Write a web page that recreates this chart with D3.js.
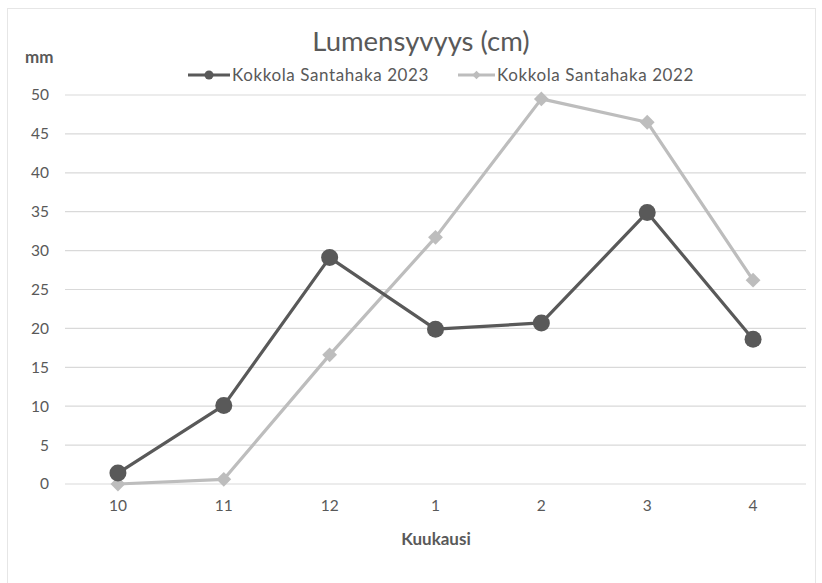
<!DOCTYPE html>
<html><head><meta charset="utf-8">
<script src="https://cdn.jsdelivr.net/npm/d3@7"></script>
<style>body{margin:0;background:#fff;} text{font-family:Lato,"Open Sans",sans-serif;}</style>
</head><body>
<svg id="c" width="822" height="583"></svg>
<script>
const months = ["10","11","12","1","2","3","4"];
const s2023 = [1.4, 10.1, 29.1, 19.9, 20.7, 34.9, 18.6];
const s2022 = [0.0, 0.6, 16.6, 31.7, 49.5, 46.5, 26.2];
const yTicks = [0,5,10,15,20,25,30,35,40,45,50];
const seriesNames = ["Kokkola Santahaka 2023", "Kokkola Santahaka 2022"];
const colors = ["#595959", "#bdbdbd"];

const svg = d3.select("#c");
svg.append("rect").attr("x",7.5).attr("y",8.5).attr("width",808).attr("height",590)
  .attr("fill","#fff").attr("stroke","#e6e6e6");

const x = d3.scaleBand().domain(months).range([65,806]);
const y = d3.scaleLinear().domain([0,50]).range([484,95]);

svg.append("g").selectAll("line").data(yTicks).join("line")
  .attr("x1",65).attr("x2",806).attr("y1",d=>y(d)).attr("y2",d=>y(d))
  .attr("stroke","#d9d9d9").attr("stroke-width",1.2);

const ya = svg.append("g").attr("transform","translate(49,0)")
  .call(d3.axisLeft(y).tickValues(yTicks).tickSize(0).tickPadding(0));
ya.select(".domain").remove();
ya.selectAll("text").attr("font-size",15.5).attr("fill","#595959").attr("font-family","Lato,sans-serif");

const xa = svg.append("g").attr("transform","translate(0,497)")
  .call(d3.axisBottom(x).tickSize(0).tickPadding(3));
xa.select(".domain").remove();
xa.selectAll("text").attr("font-size",15.5).attr("fill","#595959").attr("font-family","Lato,sans-serif");

const cx = d => x(d) + x.bandwidth()/2;
const line = d3.line().x((d,i)=>cx(months[i])).y(d=>y(d));

svg.append("path").datum(s2022).attr("d",line).attr("fill","none")
  .attr("stroke",colors[1]).attr("stroke-width",3.2).attr("stroke-linejoin","round");
svg.append("path").datum(s2023).attr("d",line).attr("fill","none")
  .attr("stroke",colors[0]).attr("stroke-width",3.2).attr("stroke-linejoin","round");

svg.append("g").selectAll("path").data(s2022).join("path")
  .attr("d", d3.symbol().type(d3.symbolSquare).size(110))
  .attr("transform",(d,i)=>`translate(${cx(months[i])},${y(d)}) rotate(45)`)
  .attr("fill",colors[1]);
svg.append("g").selectAll("circle").data(s2023).join("circle")
  .attr("cx",(d,i)=>cx(months[i])).attr("cy",d=>y(d)).attr("r",8.5)
  .attr("fill",colors[0]);

svg.append("text").attr("x",421).attr("y",51).attr("text-anchor","middle")
  .attr("font-size",27.5).attr("fill","#595959").text("Lumensyvyys (cm)");
svg.append("text").attr("x",25).attr("y",63).attr("font-size",17).attr("font-weight","bold")
  .attr("fill","#595959").text("mm");
svg.append("text").attr("x",436).attr("y",545).attr("text-anchor","middle")
  .attr("font-size",17).attr("font-weight","bold").attr("fill","#595959").text("Kuukausi");

const leg = [{x0:188,x1:230,tx:232},{x0:458,x1:495,tx:497}];
leg.forEach((l,i)=>{
  const g = svg.append("g");
  g.append("line").attr("x1",l.x0).attr("x2",l.x1).attr("y1",75).attr("y2",75)
    .attr("stroke",colors[i]).attr("stroke-width",3.2);
  if(i===0) g.append("circle").attr("cx",(l.x0+l.x1)/2).attr("cy",75).attr("r",4.5).attr("fill",colors[i]);
  else g.append("path").attr("d",d3.symbol().type(d3.symbolSquare).size(36))
    .attr("transform",`translate(${(l.x0+l.x1)/2},75) rotate(45)`).attr("fill",colors[i]);
  g.append("text").attr("x",l.tx).attr("y",81).attr("font-size",17).attr("letter-spacing",0.6)
    .attr("fill","#595959").text(seriesNames[i]);
});
</script>
</body></html>
